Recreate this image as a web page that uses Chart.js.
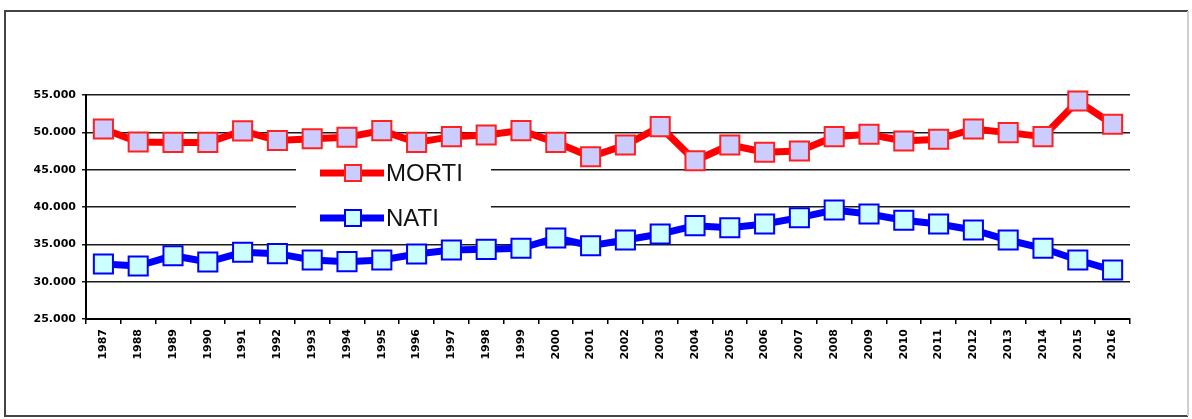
<!DOCTYPE html>
<html>
<head>
<meta charset="utf-8">
<script src="https://cdn.jsdelivr.net/npm/chart.js@4"></script>
<style>
  html, body { margin: 0; padding: 0; background: #fff; }
  #wrap { width: 1192px; height: 419px; }
</style>
</head>
<body>
<div id="wrap"><canvas id="c" width="1192" height="419"></canvas></div>
<script>
// Anni
const anni = ['1987','1988','1989','1990','1991','1992','1993','1994','1995','1996',
              '1997','1998','1999','2000','2001','2002','2003','2004','2005','2006',
              '2007','2008','2009','2010','2011','2012','2013','2014','2015','2016'];

// Decessi per anno
const morti = [50450, 48700, 48650, 48650, 50200, 48900, 49150, 49350, 50230, 48660,
               49420, 49640, 50230, 48660, 46730, 48300, 50760, 46200, 48300, 47330,
               47500, 49420, 49740, 48840, 49070, 50450, 49960, 49420, 54200, 51080];

// Nascite per anno
const nati = [32370, 32100, 33480, 32630, 33930, 33750, 32900, 32680, 32900, 33700,
              34240, 34330, 34470, 35850, 34820, 35580, 36390, 37500, 37230, 37720,
              38570, 39600, 39070, 38220, 37720, 36920, 35580, 34470, 32900, 31560];

const yMin = 25000, yMax = 55000, yStep = 5000;

const fmt = v => v.toLocaleString('it-IT', { minimumFractionDigits: 0 }).replace(/,/g, '.');
const tickFont = { family: '"DejaVu Sans", sans-serif', size: 11, weight: 'bold' };

// Cornice esterna
const frame = {
  id: 'frame',
  beforeDraw(chart) {
    const ctx = chart.ctx;
    ctx.save();
    ctx.fillStyle = '#fff';
    ctx.fillRect(0, 0, chart.width, chart.height);
    ctx.lineWidth = 2;
    ctx.strokeStyle = '#444';
    ctx.beginPath();
    ctx.moveTo(1188, 11); ctx.lineTo(5, 11); ctx.lineTo(5, 416); ctx.lineTo(1188, 416);
    ctx.stroke();
    ctx.strokeStyle = '#d0d0d0';
    ctx.beginPath();
    ctx.moveTo(1188, 11); ctx.lineTo(1188, 416);
    ctx.stroke();
    ctx.restore();
  }
};

// Legenda interna all'area del grafico
const innerLegend = {
  id: 'innerLegend',
  afterDatasetsDraw(chart) {
    const ctx = chart.ctx;
    ctx.save();
    ctx.fillStyle = '#fff';
    ctx.fillRect(296, 154, 195, 79);
    const rows = [0, 1].map(i => chart.data.datasets[i]);
    const ys = [173, 218];
    rows.forEach((ds, i) => {
      const y = ys[i];
      ctx.strokeStyle = ds.borderColor;
      ctx.lineWidth = 7;
      ctx.lineCap = 'butt';
      ctx.beginPath();
      ctx.moveTo(320, y); ctx.lineTo(384, y);
      ctx.stroke();
      ctx.fillStyle = ds.pointBackgroundColor;
      ctx.strokeStyle = ds.pointBorderColor;
      ctx.lineWidth = 2;
      ctx.fillRect(345, y - 8, 16, 16);
      ctx.strokeRect(345, y - 8, 16, 16);
      ctx.fillStyle = '#111';
      ctx.font = '24px "Liberation Sans", Arial, sans-serif';
      ctx.textBaseline = 'middle';
      ctx.textAlign = 'left';
      ctx.fillText(ds.label, 386, y + 1);
    });
    ctx.restore();
  }
};

new Chart(document.getElementById('c'), {
  type: 'line',
  data: {
    labels: anni,
    datasets: [
      {
        label: 'MORTI',
        data: morti,
        borderColor: '#ff0000',
        borderWidth: 7,
        pointStyle: 'rect',
        pointRadius: 13.5,
        pointHoverRadius: 13.5,
        pointBackgroundColor: '#ccccff',
        pointBorderColor: '#ff2020',
        pointBorderWidth: 2,
        tension: 0,
        clip: false
      },
      {
        label: 'NATI',
        data: nati,
        borderColor: '#0000ff',
        borderWidth: 7,
        pointStyle: 'rect',
        pointRadius: 13.5,
        pointHoverRadius: 13.5,
        pointBackgroundColor: '#ccffff',
        pointBorderColor: '#0000ff',
        pointBorderWidth: 2,
        tension: 0,
        clip: false
      }
    ]
  },
  options: {
    responsive: false,
    animation: false,
    events: [],
    layout: { padding: { left: 10, right: 62, top: 95, bottom: 0 } },
    plugins: {
      legend: { display: false },
      tooltip: { enabled: false },
      title: { display: false }
    },
    scales: {
      x: {
        type: 'category',
        offset: true,
        grid: {
          offset: true,
          drawOnChartArea: false,
          drawTicks: true,
          tickLength: 5,
          color: '#000',
          lineWidth: 1.5
        },
        border: { color: '#000', width: 2 },
        ticks: {
          color: '#000',
          font: tickFont,
          minRotation: 90,
          maxRotation: 90,
          autoSkip: false,
          padding: 5
        },
        afterFit(scale) { scale.height = 100; }
      },
      y: {
        min: yMin,
        max: yMax,
        grid: {
          color: '#1a1a1a',
          lineWidth: 1.5,
          drawTicks: true,
          tickLength: 4
        },
        border: { color: '#000', width: 2 },
        ticks: {
          stepSize: yStep,
          color: '#000',
          font: tickFont,
          padding: 6,
          callback: v => fmt(v)
        },
        afterFit(scale) { scale.width = 76; }
      }
    }
  },
  plugins: [frame, innerLegend]
});
</script>
</body>
</html>
